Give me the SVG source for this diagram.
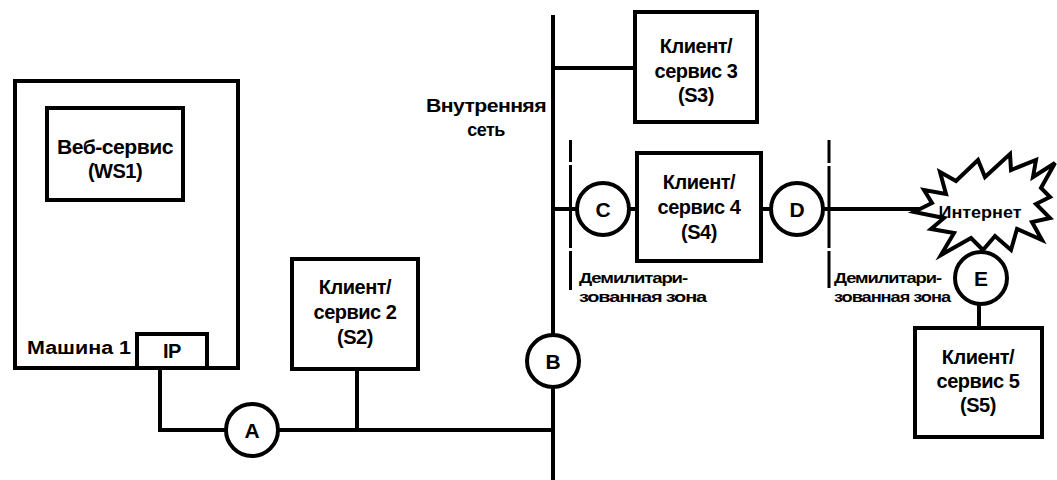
<svg xmlns="http://www.w3.org/2000/svg" width="1057" height="480" viewBox="0 0 1057 480">
<style>
.box{fill:#fff;stroke:#000;stroke-width:4}
.ln{fill:none;stroke:#000;stroke-width:4}
.dz{fill:none;stroke:#000;stroke-width:3}
.c{fill:#fff;stroke:#000;stroke-width:4}
text{font-family:"Liberation Sans",Arial,sans-serif;font-weight:bold;fill:#000}
.t{font-size:20px;text-anchor:middle;letter-spacing:-0.5px}
.cl{font-size:21px;text-anchor:middle}
.s{font-size:14px;letter-spacing:-0.8px}
</style>
<rect width="1057" height="480" fill="#fff"/>
<g id="connectors">
<line class="ln" x1="553" y1="15" x2="553" y2="480"/>
<line class="ln" x1="160" y1="200" x2="160" y2="334"/>
<polyline class="ln" points="160,368 160,430 553,430"/>
<line class="ln" x1="357" y1="369" x2="357" y2="430"/>
<line class="ln" x1="553" y1="68" x2="635" y2="68"/>
<line class="ln" x1="553" y1="209" x2="922" y2="209"/>
<line class="ln" x1="979" y1="300" x2="979" y2="328"/>
</g>
<g id="dmz-left">
<path class="dz" d="M570.5 140V162M570.5 165V248M570.5 251V290"/>
<text class="s" x="579" y="283" textLength="108" lengthAdjust="spacingAndGlyphs">Демилитари-</text>
<text class="s" x="579" y="302" textLength="127" lengthAdjust="spacingAndGlyphs">зованная зона</text>
</g>
<g id="dmz-right">
<path class="dz" d="M829 140V163M829 166V248M829 251V288"/>
<text class="s" x="834" y="283" textLength="107" lengthAdjust="spacingAndGlyphs">Демилитари-</text>
<text class="s" x="834" y="302" textLength="116" lengthAdjust="spacingAndGlyphs">зованная зона</text>
</g>
<g id="machine1">
<rect class="box" x="15" y="81" width="223" height="287" fill="none"/>
<text x="27" y="354" style="font-size:18px" textLength="104" lengthAdjust="spacingAndGlyphs">Машина 1</text>
</g>
<g id="ws1">
<rect class="box" x="47" y="108" width="136" height="92"/>
<text class="t" x="115" y="154" textLength="116" lengthAdjust="spacingAndGlyphs">Веб-сервис</text>
<text class="t" x="115" y="178">(WS1)</text>
</g>
<g id="ip">
<rect class="box" x="137" y="334" width="70" height="34"/>
<text class="t" x="172" y="358">IP</text>
</g>
<g id="s2">
<rect class="box" x="292" y="259" width="126" height="110"/>
<text class="t" x="355" y="294">Клиент/</text>
<text class="t" x="355" y="319">сервис 2</text>
<text class="t" x="355" y="344">(S2)</text>
</g>
<g id="s3">
<rect class="box" x="635" y="12" width="122" height="110"/>
<text class="t" x="696" y="53">Клиент/</text>
<text class="t" x="696" y="78">сервис 3</text>
<text class="t" x="696" y="102">(S3)</text>
</g>
<g id="s4">
<rect class="box" x="637" y="153" width="124" height="108"/>
<text class="t" x="699" y="189">Клиент/</text>
<text class="t" x="699" y="214">сервис 4</text>
<text class="t" x="699" y="239">(S4)</text>
</g>
<g id="s5">
<rect class="box" x="915" y="328" width="127" height="109"/>
<text class="t" x="978" y="364">Клиент/</text>
<text class="t" x="978" y="388">сервис 5</text>
<text class="t" x="978" y="412">(S5)</text>
</g>
<g id="internal-net">
<text class="t" x="486" y="112" style="font-size:18px" textLength="120" lengthAdjust="spacingAndGlyphs">Внутренняя</text>
<text class="t" x="486" y="136" style="font-size:18px">сеть</text>
</g>
<g id="internet">
<polygon fill="#fff" stroke="#000" stroke-width="4" stroke-linejoin="miter" points="940,172 956,181 978,160 985,177 1010,154 1011,170 1036,160 1033,177 1055,163 1041,188 1050,197 1036,204 1050,218 1032,222 1042,240 1017,229 1011,250 995,236 983,250 971,238 941,255 954,233 931,229 944,218 914,212 932,203 924,190 946,194"/>
<text x="980" y="218" text-anchor="middle" style="font-size:16px" textLength="83" lengthAdjust="spacingAndGlyphs">Интернет</text>
</g>
<g id="node-a">
<circle class="c" cx="252" cy="430" r="26"/>
<text class="cl" x="252" y="438">A</text>
</g>
<g id="node-b">
<circle class="c" cx="553" cy="361" r="26"/>
<text class="cl" x="553" y="369">B</text>
</g>
<g id="node-c">
<circle class="c" cx="603" cy="209" r="26"/>
<text class="cl" x="603" y="217">C</text>
</g>
<g id="node-d">
<circle class="c" cx="797" cy="209" r="26"/>
<text class="cl" x="797" y="217">D</text>
</g>
<g id="node-e">
<circle class="c" cx="981" cy="278" r="26"/>
<text class="cl" x="981" y="286">E</text>
</g>
</svg>
